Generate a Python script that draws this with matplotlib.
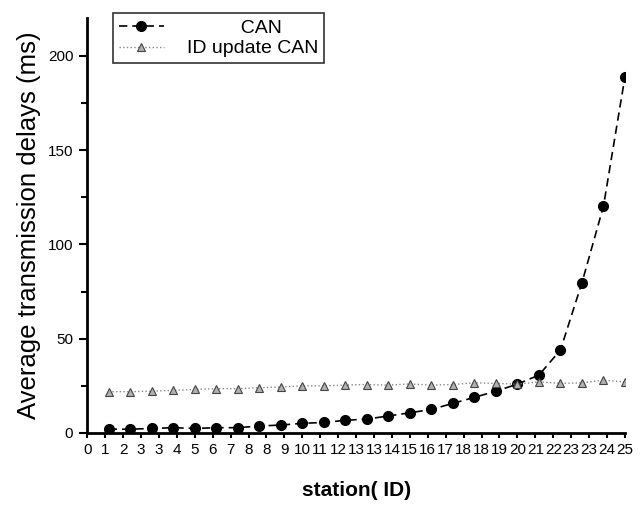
import numpy as np
import matplotlib
matplotlib.use("Agg")
import matplotlib.pyplot as plt
from matplotlib.ticker import FixedLocator

plt.rcParams["font.family"] = ["Liberation Sans Narrow", "Liberation Sans", "DejaVu Sans"]

# ── data ────────────────────────────────────────────────────────────────────
station = list(range(1, 26))
can = [2.0, 2.0, 2.4, 2.8, 2.4, 2.8, 2.8, 3.7, 4.2, 5.1, 5.6, 6.7, 7.4,
       9.0, 10.7, 12.5, 15.7, 18.9, 22.2, 25.9, 30.7, 44.0, 79.7, 120.3, 189.0]
id_update = [21.9, 21.9, 22.2, 22.6, 23.1, 23.5, 23.5, 24.0, 24.4, 25.0, 25.0,
             25.4, 25.7, 25.4, 26.0, 25.4, 25.7, 26.6, 26.3, 25.9, 27.1, 26.3,
             26.6, 28.0, 27.1]

# the original axis has 30 tick intervals over 0..25, labels rounded to integers
x_tick_labels = ["0", "1", "2", "3", "3", "4", "5", "6", "7", "8", "8", "9",
                 "10", "11", "12", "13", "13", "14", "15", "16", "17", "18",
                 "18", "19", "20", "21", "22", "23", "23", "24", "25"]
y_ticks = [0, 50, 100, 150, 200]
y_minor = [25, 75, 125, 175]

fig = plt.figure(figsize=(6.41, 5.07), dpi=100)
ax = fig.add_axes([0.136, 0.146, 0.839, 0.818])

ax.plot(station, can, color="black", linestyle=(0, (5, 3)), linewidth=1.2,
        marker="o", markersize=7, markerfacecolor="black",
        markeredgecolor="black", label="          CAN")
ax.plot(station, id_update, color="#888888", linestyle=":", linewidth=1.0,
        marker="^", markersize=6, markerfacecolor="#b0b0b0",
        markeredgecolor="#444444", markeredgewidth=0.8, label="ID update CAN")

ax.set_xlim(0, 25)
ax.set_ylim(0, 220)

x_pos = np.linspace(0, 25, len(x_tick_labels))
ax.set_xticks(x_pos)
ax.set_xticklabels(x_tick_labels, fontsize=11)
ax.xaxis.set_minor_locator(FixedLocator([]))
# long ticks every 5 stations
for i, t in enumerate(ax.xaxis.get_major_ticks()):
    if i % 6 == 0:
        t.tick1line.set_markersize(7)
    else:
        t.tick1line.set_markersize(4)

ax.set_yticks(y_ticks)
ax.set_yticklabels([str(v) for v in y_ticks], fontsize=11)
ax.yaxis.set_minor_locator(FixedLocator(y_minor))

ax.tick_params(axis="both", which="major", direction="out", width=1.5, pad=4)
ax.tick_params(axis="y", which="major", length=6)
ax.tick_params(axis="y", which="minor", direction="out", length=4, width=1.5)

for side in ("top", "right"):
    ax.spines[side].set_visible(False)
for side in ("left", "bottom"):
    ax.spines[side].set_linewidth(2)

ax.set_ylabel("Average transmission delays (ms)", fontsize=18.5,
              family=["Liberation Sans", "DejaVu Sans"], labelpad=5)
ax.set_xlabel("station( ID)", fontsize=15, fontweight="bold",
              family=["Liberation Sans", "DejaVu Sans"], labelpad=17)

leg = ax.legend(loc="upper left", bbox_to_anchor=(0.03, 1.035), frameon=True,
                fancybox=False, edgecolor="black",
                handlelength=2.3, borderpad=0.3, labelspacing=0.15,
                handletextpad=1.2,
                prop={"family": ["Liberation Sans", "DejaVu Sans"], "size": 14})
leg.get_frame().set_linewidth(1.2)

fig.savefig("out.png", dpi=100)
